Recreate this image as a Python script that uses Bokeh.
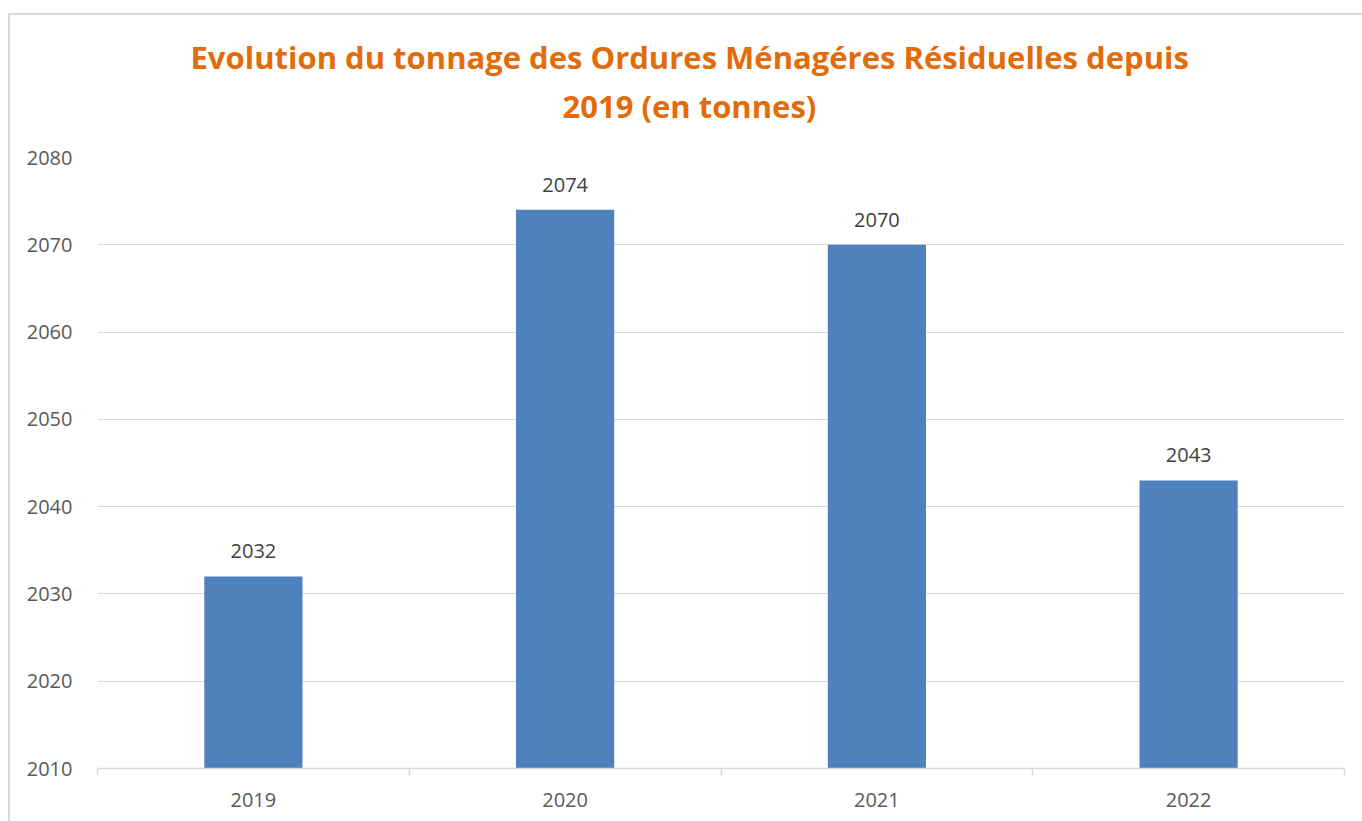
from bokeh.plotting import figure
from bokeh.models import Range1d, FixedTicker, Title, ColumnDataSource
from bokeh.core.properties import value
from bokeh.embed import file_html
from bokeh.resources import INLINE

years = ["2019", "2020", "2021", "2022"]
tonnage = [2032, 2074, 2070, 2043]
y_ticks = [2010, 2020, 2030, 2040, 2050, 2060, 2070, 2080]
title_lines = ["Evolution du tonnage des Ordures Ménagéres Résiduelles depuis", "2019 (en tonnes)"]

xs = [i + 0.5 for i in range(len(years))]
src = ColumnDataSource(dict(x=xs, top=tonnage, label=[str(v) for v in tonnage]))

bg = ("linear-gradient(#d9d9d9,#d9d9d9) 8px 13px / 2px 100% no-repeat, "
      "linear-gradient(#d9d9d9,#d9d9d9) 8px 13px / 100% 2px no-repeat, white")

p = figure(width=1362, height=821, output_backend="svg", toolbar_location=None,
           x_range=Range1d(0, len(years)), y_range=Range1d(y_ticks[0], y_ticks[-1]),
           min_border_left=97, min_border_right=18, min_border_top=157, min_border_bottom=53,
           styles={"background": bg})
p.outline_line_color = None
p.background_fill_color = "white"
p.border_fill_color = None

p.vbar(x="x", top="top", bottom=y_ticks[0], width=0.315, source=src,
       fill_color="#4F81BD", line_color=None)
p.text(x="x", y="top", text="label", source=src, y_offset=-18,
       text_align="center", text_baseline="bottom", text_font=value("Open Sans"),
       text_font_size="20px", text_color="#404040")

# y axis
p.yaxis.ticker = FixedTicker(ticks=y_ticks)
p.yaxis.axis_line_color = None
p.yaxis.major_tick_line_color = None
p.yaxis.minor_tick_line_color = None
p.yaxis.major_label_standoff = 19
p.yaxis.major_label_text_font = "Open Sans"
p.yaxis.major_label_text_font_size = "20px"
p.yaxis.major_label_text_color = "#595959"

# x axis
p.xaxis.ticker = FixedTicker(ticks=xs, minor_ticks=list(range(len(years) + 1)))
p.xaxis.major_label_overrides = {x: y for x, y in zip(xs, years)}
p.xaxis.axis_line_color = "#d9d9d9"
p.xaxis.axis_line_width = 1.5
p.xaxis.major_tick_line_color = None
p.xaxis.major_tick_out = 0
p.xaxis.major_tick_in = 0
p.xaxis.minor_tick_line_color = "#d9d9d9"
p.xaxis.minor_tick_line_width = 1.5
p.xaxis.minor_tick_out = 7
p.xaxis.minor_tick_in = 0
p.xaxis.major_label_standoff = 17
p.xaxis.major_label_text_font = "Open Sans"
p.xaxis.major_label_text_font_size = "20px"
p.xaxis.major_label_text_color = "#595959"

p.xgrid.grid_line_color = None
p.ygrid.grid_line_color = "#d9d9d9"
p.ygrid.grid_line_width = 1

# spacer between the plot and the title block
p.add_layout(Title(text=" ", text_font_size="1px", standoff=28), "above")
# title: two lines, second line nearest to the plot
for txt, off, so in [(title_lines[1], 465, 0), (title_lines[0], 93, 10)]:
    p.add_layout(Title(text=txt, align="left", offset=off, standoff=so,
                       text_font="Open Sans", text_font_style="bold",
                       text_font_size="31px", text_color="#E36C0A"), "above")

open("out.html", "w").write(file_html(p, INLINE))
